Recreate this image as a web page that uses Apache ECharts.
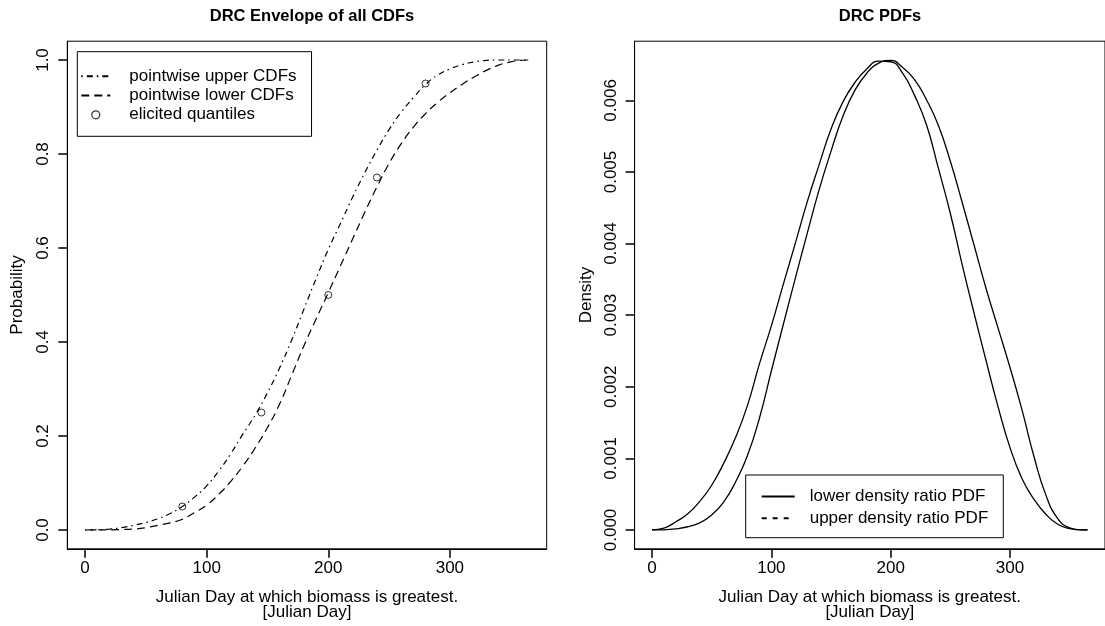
<!DOCTYPE html>
<html>
<head>
<meta charset="utf-8">
<title>DRC Envelope of all CDFs / DRC PDFs</title>
<script src="https://cdn.jsdelivr.net/npm/echarts@6/dist/echarts.min.js"></script>
<style>
  html, body { margin: 0; padding: 0; background: #fff; }
  #chart { width: 1105px; height: 626px; }
</style>
</head>
<body>
<div id="chart"></div>
<script>
// Julian day grid shared by every curve
const days = [0, 10, 20, 30, 40, 50, 60, 70, 80, 90, 100, 110, 120, 130, 140, 150, 160, 170, 180,
  190, 200, 210, 220, 230, 240, 250, 260, 270, 280, 290, 300, 310, 320, 330, 340, 350, 360, 365];

// Pointwise envelope of the CDFs
const upperCdf = [0, 0.0005, 0.002, 0.005, 0.010, 0.016, 0.024, 0.035, 0.050, 0.070,
  0.094, 0.126, 0.163, 0.205, 0.245, 0.292, 0.345, 0.405, 0.470, 0.535,
  0.597, 0.652, 0.708, 0.760, 0.808, 0.852, 0.889, 0.920, 0.948, 0.968,
  0.981, 0.990, 0.996, 0.999, 1.0, 1.0, 1.0, 1.0];
const lowerCdf = [0, 0.0001, 0.0003, 0.001, 0.002, 0.005, 0.010, 0.015, 0.023, 0.037,
  0.053, 0.076, 0.104, 0.137, 0.175, 0.218, 0.268, 0.330, 0.392, 0.449,
  0.505, 0.562, 0.619, 0.676, 0.730, 0.780, 0.822, 0.857, 0.886, 0.910,
  0.930, 0.948, 0.964, 0.978, 0.989, 0.996, 0.9995, 1.0];

// Elicited quantiles
const quantileDays = [80, 145, 200, 240, 280];
const quantileProbs = [0.05, 0.25, 0.50, 0.75, 0.95];

// Extreme densities of the density ratio class
const lowerRatioPdf = [0, 0.000025, 0.000115, 0.000225, 0.00040, 0.000625, 0.00093, 0.00129, 0.00174, 0.00232,
  0.00285, 0.00343, 0.00400, 0.00458, 0.00510, 0.00560, 0.00598, 0.00625, 0.00644, 0.00655,
  0.00654, 0.00638, 0.00607, 0.00566, 0.00505, 0.00442, 0.00370, 0.00302, 0.00236, 0.00172,
  0.00115, 0.00072, 0.00043, 0.00022, 0.00008, 0.00002, 0.000002, 0];
const upperRatioPdf = [0, 0.000002, 0.000015, 0.000045, 0.00010, 0.00021, 0.00039, 0.00067, 0.00104, 0.00156,
  0.00222, 0.00287, 0.00351, 0.00414, 0.00475, 0.00529, 0.00578, 0.00614, 0.00638, 0.00652,
  0.00656, 0.00646, 0.00629, 0.00601, 0.00565, 0.00515, 0.00457, 0.00397, 0.00337, 0.00282,
  0.00227, 0.00168, 0.00103, 0.00049, 0.00016, 0.00003, 0.000001, 0];

// Tick positions
const dayTicks = [0, 100, 200, 300];
const probTicks = [0, 0.2, 0.4, 0.6, 0.8, 1.0];
const densityTicks = [0, 0.001, 0.002, 0.003, 0.004, 0.005, 0.006];

// Axis limits (data range padded by 4% on each side)
const DAY_MIN = -14.6, DAY_MAX = 379.6;
const PROB_MIN = -0.04, PROB_MAX = 1.04;
const DENS_MIN = -0.000263, DENS_MAX = 0.006827;

const FONT = "'Liberation Sans', Arial, Helvetica, sans-serif";
const TICK_LEN = 9;
const TICK_STYLE = { color: '#000', width: 1.5 };
const pairs = (xs, ys) => xs.map((x, i) => [x, ys[i]]);

const xAxisCommon = (gridIndex) => ({
  type: 'value',
  gridIndex: gridIndex,
  position: 'bottom',
  min: DAY_MIN,
  max: DAY_MAX,
  axisLine: { show: true, onZero: false, lineStyle: { color: '#000', width: 1 } },
  splitLine: { show: false },
  axisTick: { show: true, inside: false, customValues: dayTicks, length: TICK_LEN, lineStyle: TICK_STYLE },
  axisLabel: { customValues: dayTicks, color: '#000', fontFamily: FONT, fontSize: 17, margin: 11 },
  name: 'Julian Day at which biomass is greatest.\n[Julian Day]',
  nameLocation: 'middle',
  nameGap: 41,
  nameTextStyle: { color: '#000', fontFamily: FONT, fontSize: 17, lineHeight: 15 }
});

const yAxisCommon = (gridIndex, min, max, ticks, digits, name, gap) => ({
  type: 'value', gridIndex: gridIndex, position: 'left', min: min, max: max,
  axisLine: { show: true, onZero: false, lineStyle: { color: '#000', width: 1 } },
  splitLine: { show: false },
  axisTick: { show: true, inside: false, customValues: ticks, length: TICK_LEN, lineStyle: TICK_STYLE },
  axisLabel: { customValues: ticks, rotate: 90, color: '#000', fontFamily: FONT, fontSize: 17, margin: 15,
    formatter: (v) => v.toFixed(digits) },
  name: name, nameLocation: 'middle', nameGap: gap, nameRotate: 90,
  nameTextStyle: { color: '#000', fontFamily: FONT, fontSize: 17 }
});

const chart = echarts.init(document.getElementById('chart'), null, { renderer: 'canvas' });

chart.setOption({
  animation: false,
  backgroundColor: '#fff',
  textStyle: { fontFamily: FONT },
  title: [
    { text: 'DRC Envelope of all CDFs', left: 307, top: 3, textAlign: 'center',
      textStyle: { fontFamily: FONT, fontSize: 16.5, fontWeight: 'bold', color: '#000' } },
    { text: 'DRC PDFs', left: 875, top: 3, textAlign: 'center',
      textStyle: { fontFamily: FONT, fontSize: 16.5, fontWeight: 'bold', color: '#000' } }
  ],
  grid: [
    { left: 67.3, top: 41.2, width: 479.4, height: 507.6, show: true, borderColor: '#000', borderWidth: 1 },
    { left: 634.6, top: 41.2, width: 479.4, height: 507.6, show: true, borderColor: '#000', borderWidth: 1 }
  ],
  xAxis: [xAxisCommon(0), xAxisCommon(1)],
  yAxis: [
    yAxisCommon(0, PROB_MIN, PROB_MAX, probTicks, 1, 'Probability', 41),
    yAxisCommon(1, DENS_MIN, DENS_MAX, densityTicks, 3, 'Density', 40)
  ],
  legend: [
    {
      orient: 'vertical', left: 77.3, top: 51.7,
      padding: [16, 15, 13, 3],
      itemWidth: 29, itemHeight: 8, itemGap: 2.3,
      borderColor: '#000', borderWidth: 1, backgroundColor: '#fff',
      textStyle: { color: '#000', fontFamily: FONT, fontSize: 17, lineHeight: 17, padding: [0, 0, 0, 14] },
      data: [
        { name: 'pointwise upper CDFs', itemStyle: { opacity: 0 } },
        { name: 'pointwise lower CDFs', itemStyle: { opacity: 0 } },
        { name: 'elicited quantiles', icon: 'circle',
          itemStyle: { color: 'rgba(0,0,0,0)', borderColor: '#000', borderWidth: 1.2 } }
      ]
    },
    {
      orient: 'vertical', left: 745.7, top: 475,
      padding: [13, 15, 11, 15],
      itemWidth: 33, itemHeight: 8, itemGap: 4.7,
      borderColor: '#000', borderWidth: 1, backgroundColor: '#fff',
      textStyle: { color: '#000', fontFamily: FONT, fontSize: 17, lineHeight: 17, padding: [0, 0, 0, 10] },
      data: [
        { name: 'lower density ratio PDF', itemStyle: { opacity: 0 } },
        { name: 'upper density ratio PDF', itemStyle: { opacity: 0 }, lineStyle: { type: [5, 6] } }
      ]
    }
  ],
  series: [
    {
      name: 'pointwise upper CDFs', type: 'line', xAxisIndex: 0, yAxisIndex: 0,
      data: pairs(days, upperCdf), symbol: 'none', smooth: 0.5,
      itemStyle: { color: '#000' },
      lineStyle: { color: '#000', width: 1.2, type: [1.5, 4, 6, 4] }
    },
    {
      name: 'pointwise lower CDFs', type: 'line', xAxisIndex: 0, yAxisIndex: 0,
      data: pairs(days, lowerCdf), symbol: 'none', smooth: 0.5,
      itemStyle: { color: '#000' },
      lineStyle: { color: '#000', width: 1.2, type: [8, 5] }
    },
    {
      name: 'elicited quantiles', type: 'scatter', xAxisIndex: 0, yAxisIndex: 0,
      data: pairs(quantileDays, quantileProbs), symbol: 'circle', symbolSize: 7,
      itemStyle: { color: 'rgba(0,0,0,0)', borderColor: '#000', borderWidth: 1 }
    },
    {
      name: 'lower density ratio PDF', type: 'line', xAxisIndex: 1, yAxisIndex: 1,
      data: pairs(days, lowerRatioPdf), symbol: 'none', smooth: 0.5,
      itemStyle: { color: '#000' },
      lineStyle: { color: '#000', width: 1.3, type: 'solid' }
    },
    {
      name: 'upper density ratio PDF', type: 'line', xAxisIndex: 1, yAxisIndex: 1,
      data: pairs(days, upperRatioPdf), symbol: 'none', smooth: 0.5,
      itemStyle: { color: '#000' },
      lineStyle: { color: '#000', width: 1.3, type: 'solid' }
    }
  ]
});
</script>
</body>
</html>
